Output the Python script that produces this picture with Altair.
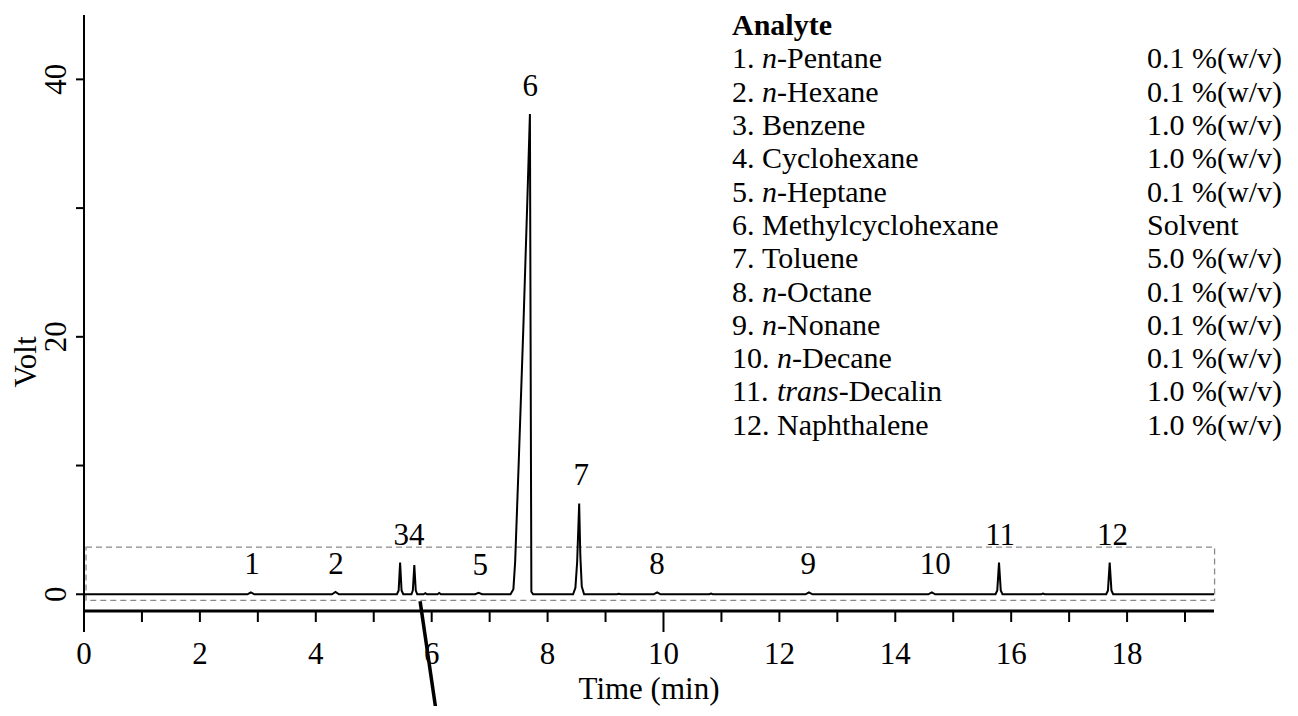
import altair as alt
import pandas as pd

# ---------------- data ----------------
trace_time = [
    0.00, 2.82, 2.88, 2.94,
    4.28, 4.34, 4.40,
    5.40, 5.43, 5.455, 5.48, 5.51,
    5.65, 5.675, 5.70, 5.725, 5.75,
    5.86, 5.89, 5.92,
    6.10, 6.13, 6.16,
    6.75, 6.81, 6.87,
    7.36, 7.41, 7.44, 7.50, 7.58, 7.65, 7.695, 7.72, 7.75,
    8.44, 8.48, 8.51, 8.545, 8.565, 8.59, 8.63,
    9.20, 9.23, 9.26,
    9.83, 9.89, 9.95,
    10.79, 10.82, 10.85,
    12.45, 12.51, 12.57,
    14.57, 14.63, 14.69,
    15.73, 15.76, 15.79, 15.82, 15.85,
    16.52, 16.55, 16.58,
    17.64, 17.67, 17.70, 17.73, 17.76,
    19.50,
]
trace_volt = [
    0.0, 0.0, 0.15, 0.0,
    0.0, 0.18, 0.0,
    0.0, 0.3, 2.46, 0.3, 0.0,
    0.0, 0.3, 2.26, 0.3, 0.0,
    0.0, 0.08, 0.0,
    0.0, 0.1, 0.0,
    0.0, 0.12, 0.0,
    0.0, 0.4, 2.5, 10.0, 20.5, 30.5, 37.3, 0.2, 0.0,
    0.0, 0.5, 2.5, 7.05, 3.0, 0.6, 0.0,
    0.0, 0.04, 0.0,
    0.0, 0.15, 0.0,
    0.0, 0.06, 0.0,
    0.0, 0.15, 0.0,
    0.0, 0.15, 0.0,
    0.0, 0.3, 2.46, 0.3, 0.0,
    0.0, 0.05, 0.0,
    0.0, 0.3, 2.46, 0.3, 0.0,
    0.0,
]

peak_label = ["1", "2", "34", "5", "6", "7", "8", "9", "10", "11", "12"]
peak_time = [2.90, 4.35, 5.61, 6.84, 7.70, 8.58, 9.89, 12.50, 14.69, 15.81, 17.75]
peak_apex = [0.15, 0.18, 2.46, 0.12, 37.3, 7.05, 0.15, 0.15, 0.15, 2.46, 2.46]

legend_header = "Analyte"
legend_num = ["1.", "2.", "3.", "4.", "5.", "6.", "7.", "8.", "9.", "10.", "11.", "12."]
legend_ital = ["n", "n", "", "", "n", "", "", "n", "n", "n", "trans", ""]
legend_rest = ["-Pentane", "-Hexane", "Benzene", "Cyclohexane", "-Heptane",
               "Methylcyclohexane", "Toluene", "-Octane", "-Nonane", "-Decane",
               "-Decalin", "Naphthalene"]
legend_amount = ["0.1 %(w/v)", "0.1 %(w/v)", "1.0 %(w/v)", "1.0 %(w/v)", "0.1 %(w/v)",
                 "Solvent", "5.0 %(w/v)", "0.1 %(w/v)", "0.1 %(w/v)", "0.1 %(w/v)",
                 "1.0 %(w/v)", "1.0 %(w/v)"]

x_ticks = list(range(0, 20))
x_long_ticks = [0, 10]
x_tick_labels = ["0", "2", "4", "6", "8", "10", "12", "14", "16", "18"]
y_ticks = [0, 10, 20, 30, 40]
y_tick_labels = ["0", "20", "40"]
x_title = "Time (min)"
y_title = "Volt"

# ---------------- layout ----------------
W, H = 1130, 596
XMIN, XMAX = 0.0, 19.5
YMIN, YMAX = -1.3, 45.0
PAD_L, PAD_T, PAD_R, PAD_B = 76, 7, 74, 95
FONT = "Liberation Serif"
PLOT_X0 = 8 + PAD_L
PLOT_Y0 = 8 + PAD_T
T_PER_PX = (XMAX - XMIN) / W
V_PER_PX = (YMAX - YMIN) / H

def px_to_t(px):
    return (px - PLOT_X0) * T_PER_PX + XMIN

def py_to_v(py):
    return YMAX - (py - PLOT_Y0) * V_PER_PX

xs = alt.Scale(domain=[XMIN, XMAX], nice=False, zero=False)
ys = alt.Scale(domain=[YMIN, YMAX], nice=False, zero=False)

def X(f):
    return alt.X(f"{f}:Q", scale=xs, axis=None)

def Y(f):
    return alt.Y(f"{f}:Q", scale=ys, axis=None)

trace = pd.DataFrame({"t": trace_time, "v": trace_volt})
peaks = pd.DataFrame({"label": peak_label, "t": peak_time, "apex": peak_apex})

# ---------------- hand-built axes (through the same scales) ----------------
x_domain = alt.Chart(pd.DataFrame({"a": [XMIN], "b": [XMAX], "y": [YMIN]})).mark_rule(
    color="black", strokeWidth=3).encode(x=X("a"), x2="b:Q", y=Y("y"))
y_domain = alt.Chart(pd.DataFrame({"x": [XMIN], "a": [YMIN], "b": [YMAX]})).mark_rule(
    color="black", strokeWidth=2).encode(x=X("x"), y=Y("a"), y2="b:Q")

xt = pd.DataFrame({"t": x_ticks})
xt["a"] = YMIN
xt["b"] = [YMIN - (21 if t in x_long_ticks else 11) * V_PER_PX for t in x_ticks]
x_tick_marks = alt.Chart(xt).mark_rule(color="black", strokeWidth=2).encode(
    x=X("t"), y=Y("a"), y2="b:Q")

yt = pd.DataFrame({"v": y_ticks})
yt["a"] = XMIN
yt["b"] = XMIN - 8 * T_PER_PX
y_tick_marks = alt.Chart(yt).mark_rule(color="black", strokeWidth=2).encode(
    x=X("a"), x2="b:Q", y=Y("v"))

xl = pd.DataFrame({"txt": x_tick_labels})
xl["t"] = [float(s) for s in x_tick_labels]
xl["y"] = YMIN - 53 * V_PER_PX
x_labels = alt.Chart(xl).mark_text(
    font=FONT, fontSize=31, color="black", align="center", baseline="alphabetic"
).encode(x=X("t"), y=Y("y"), text="txt:N")

yl = pd.DataFrame({"txt": y_tick_labels})
yl["v"] = [float(s) for s in y_tick_labels]
yl["x"] = XMIN - 18 * T_PER_PX
y_labels = alt.Chart(yl).mark_text(
    font=FONT, fontSize=31, color="black", align="center", baseline="alphabetic", angle=270
).encode(x=X("x"), y=Y("v"), text="txt:N")

x_title_mark = alt.Chart(pd.DataFrame({
    "txt": [x_title], "x": [(XMIN + XMAX) / 2], "y": [YMIN - 88 * V_PER_PX]
})).mark_text(font=FONT, fontSize=31, color="black", align="center", baseline="alphabetic").encode(
    x=X("x"), y=Y("y"), text="txt:N")

y_title_mark = alt.Chart(pd.DataFrame({
    "txt": [y_title], "x": [XMIN - 48 * T_PER_PX], "y": [py_to_v(362)]
})).mark_text(font=FONT, fontSize=31, color="black", align="center", baseline="alphabetic",
              angle=270).encode(x=X("x"), y=Y("y"), text="txt:N")

# ---------------- data marks ----------------
line = alt.Chart(trace).mark_line(color="black", strokeWidth=2).encode(
    x=X("t"), y=Y("v"), order="t:Q")

box = alt.Chart(pd.DataFrame({
    "x0": [0.035], "x1": [19.51], "y0": [-0.47], "y1": [3.66]
})).mark_rect(filled=False, stroke="#8a8a8a", strokeWidth=1.3, strokeDash=[6, 4]).encode(
    x=X("x0"), x2="x1:Q", y=Y("y0"), y2="y1:Q")

pointer = alt.Chart(pd.DataFrame({
    "xa": [5.80], "xb": [6.09], "ya": [-0.54], "yb": [-9.5]
})).mark_rule(color="black", strokeWidth=3.5).encode(
    x=X("xa"), x2="xb:Q", y=Y("ya"), y2="yb:Q")

labels = alt.Chart(peaks).transform_calculate(
    ly="datum.apex + 2.1"
).mark_text(font=FONT, fontSize=31, color="black", align="center", baseline="middle").encode(
    x=X("t"), y=Y("ly"), text="label:N")

# ---------------- legend block ----------------
FS_LEG = 30
CW = {".": 0.25, " ": 0.25}
IW = {"n": 0.5, "t": 0.278, "r": 0.389, "a": 0.5, "s": 0.389}
LEG_X = 732
AMT_X = 1147
row_px = [68.4 + 33.3 * i for i in range(len(legend_num))]

num_w = [sum(CW.get(c, 0.5) for c in s) + 0.25 for s in legend_num]
ital_w = [sum(IW.get(c, 0.5) for c in s) for s in legend_ital]
leg = pd.DataFrame({
    "num": legend_num, "ital": legend_ital, "rest": legend_rest, "amt": legend_amount,
})
leg["y"] = [py_to_v(p) for p in row_px]
leg["x_num"] = px_to_t(LEG_X)
leg["x_ital"] = [px_to_t(LEG_X + w * FS_LEG) for w in num_w]
leg["x_rest"] = [px_to_t(LEG_X + (a + b) * FS_LEG) for a, b in zip(num_w, ital_w)]
leg["x_amt"] = px_to_t(AMT_X)

def leg_text(xfield, tfield, **kw):
    return alt.Chart(leg).mark_text(
        font=FONT, fontSize=FS_LEG, color="black", align="left", baseline="alphabetic", **kw
    ).encode(x=X(xfield), y=Y("y"), text=f"{tfield}:N")

header = alt.Chart(pd.DataFrame({
    "h": [legend_header], "x": [px_to_t(LEG_X)], "y": [py_to_v(35)]
})).mark_text(
    font=FONT, fontSize=FS_LEG, fontWeight="bold", color="black", align="left", baseline="alphabetic"
).encode(x=X("x"), y=Y("y"), text="h:N")

chart = alt.layer(
    box, line, x_domain, y_domain, x_tick_marks, y_tick_marks, x_labels, y_labels,
    x_title_mark, y_title_mark, pointer, labels, header,
    leg_text("x_num", "num"),
    leg_text("x_ital", "ital", fontStyle="italic"),
    leg_text("x_rest", "rest"),
    leg_text("x_amt", "amt"),
).properties(
    width=W, height=H,
    autosize=alt.AutoSizeParams(type="none"),
    padding={"left": PAD_L, "top": PAD_T, "right": PAD_R, "bottom": PAD_B},
    background="white",
).configure_view(stroke=None)

chart.save("out.html", embed_options={"renderer": "svg", "actions": False})
